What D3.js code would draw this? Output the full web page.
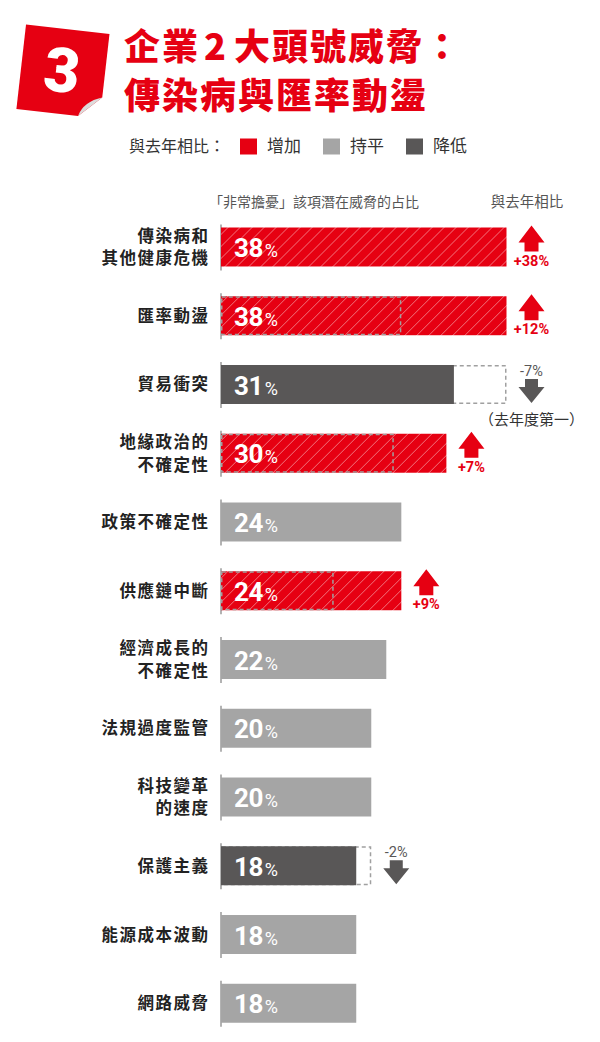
<!DOCTYPE html>
<html>
<head>
<meta charset="utf-8">
<script src="https://cdn.jsdelivr.net/npm/d3@7"></script>
<style>
  body { margin: 0; background: #fff; }
  svg { display: block; }
</style>
</head>
<body>
<div id="plot"></div>
<script>
'use strict';

const categories = ['傳染病和\n其他健康危機', '匯率動盪', '貿易衝突', '地緣政治的\n不確定性', '政策不確定性',
  '供應鏈中斷', '經濟成長的\n不確定性', '法規過度監管', '科技變革\n的速度', '保護主義', '能源成本波動', '網路威脅']
const values = [38, 38, 31, 30, 24, 24, 22, 20, 20, 18, 18, 18]
const trend = ['up', 'up', 'down', 'up', 'flat', 'up', 'flat', 'flat', 'flat', 'down', 'flat', 'flat']
const prevValues = [null, 24, 38, 23, null, 15, null, null, null, 20, null, null]
const changeLabels = ['+38%', '+12%', '-7%', '+7%', null, '+9%', null, null, null, '-2%', null, null]
const notes = [null, null, '（去年度第一）', null, null, null, null, null, null, null, null, null]
const legendItems = [['up', '增加'], ['flat', '持平'], ['down', '降低']]

const col = { up: '#e60012', flat: '#a5a5a5', down: '#595757' }
const cjk = '"Noto Sans CJK TC", "Noto Sans", sans-serif'
const num = 'Roboto, "Noto Sans", sans-serif'

let width = 600, height = 1042
let svg = d3.select('#plot').append('svg')
  .attr('width', width)
  .attr('height', height)

let defs = svg.append('defs')
let pat = defs.append('pattern')
  .attr('id', 'hatch')
  .attr('patternUnits', 'userSpaceOnUse')
  .attr('width', 12)
  .attr('height', 12)
pat.append('rect').attr('width', 12).attr('height', 12).attr('fill', col.up)
pat.append('path')
  .attr('d', 'M0,12 L12,0 M-3,3 L3,-3 M9,15 L15,9')
  .attr('stroke', '#fff')
  .attr('stroke-opacity', 0.45)
  .attr('stroke-width', 1)

// badge "3"
let badge = svg.append('g').attr('transform', 'translate(63,71) rotate(6.5)')
badge.append('path')
  .attr('d', 'M-42,-42 L42,-42 L42,22 L20,43 L-42,43 Z')
  .attr('fill', col.up)
badge.append('path')
  .attr('d', 'M42,22 L20,43 Q24,28 42,22 Z')
  .attr('fill', '#dcdcdc')
badge.append('text')
  .attr('x', -1)
  .attr('y', 21)
  .attr('text-anchor', 'middle')
  .attr('fill', '#fff')
  .attr('font-family', num)
  .attr('font-weight', 900)
  .attr('font-size', '62px')
  .text('3')

// title
let title = svg.append('g')
  .attr('fill', col.up)
  .attr('font-family', cjk)
  .attr('font-weight', 900)
  .attr('font-size', '36px')
  .attr('letter-spacing', '2px')
let t1 = title.append('text').attr('x', 124).attr('y', 60)
t1.append('tspan').text('企業')
t1.append('tspan').attr('dx', 4).text('2')
t1.append('tspan').attr('dx', 6).text('大頭號威脅：')
title.append('text').attr('x', 124).attr('y', 109).text('傳染病與匯率動盪')

// legend
let legend = svg.append('g')
  .attr('font-family', cjk)
  .attr('font-size', '16px')
  .attr('fill', '#333')
legend.append('text').attr('x', 129).attr('y', 152).text('與去年相比：')
legendItems.forEach(function(d, i) {
  let lx = 240 + i * 83
  legend.append('rect')
    .attr('x', lx).attr('y', 138.5)
    .attr('width', 17).attr('height', 16)
    .attr('fill', col[d[0]])
  legend.append('text')
    .attr('x', lx + 27).attr('y', 152)
    .attr('font-size', '17px')
    .text(d[1])
})

// column headers
svg.append('text')
  .attr('x', 209).attr('y', 207)
  .attr('font-family', cjk).attr('font-size', '14px').attr('fill', '#555')
  .text('「非常擔憂」該項潛在威脅的占比')
svg.append('text')
  .attr('x', 527).attr('y', 207)
  .attr('text-anchor', 'middle')
  .attr('font-family', cjk).attr('font-size', '14.5px').attr('fill', '#555')
  .text('與去年相比')

let x = d3.scaleLinear()
  .domain([0, 38])
  .range([221, 506.5])
let y = d3.scaleBand()
  .domain(categories)
  .range([227.5, 1022.75])
  .paddingInner(0.433)
  .paddingOuter(0)
let bh = y.bandwidth()

let rows = svg.append('g').selectAll('g')
  .data(categories)
  .enter()
  .append('g')
  .attr('transform', d => `translate(0, ${y(d)})`)

// left edge tick
rows.append('line')
  .attr('x1', x(0)).attr('x2', x(0))
  .attr('y1', -3).attr('y2', bh + 4)
  .attr('stroke', '#9a9a9a')
  .attr('stroke-width', 1.5)

rows.each(function(d, i) {
  let g = d3.select(this)
  let t = trend[i]
  let prev = prevValues[i]
  let dashed = function() {
    g.append('rect')
      .attr('x', x(0) + 0.75).attr('y', 0.75)
      .attr('width', x(prev) - x(0) - 1.5).attr('height', bh - 1.5)
      .attr('fill', 'none')
      .attr('stroke', '#a0a0a0')
      .attr('stroke-width', 1.5)
      .attr('stroke-dasharray', '4,3')
  }
  if (prev != null && t == 'down') dashed()
  g.append('rect')
    .attr('x', x(0)).attr('y', 0)
    .attr('width', x(values[i]) - x(0)).attr('height', bh)
    .attr('fill', t == 'up' ? 'url(#hatch)' : col[t])
  if (prev != null && t == 'up') dashed()

  // value label
  let vt = g.append('text')
    .attr('x', x(0) + 13).attr('y', 29.5)
    .attr('fill', '#fff')
    .attr('font-family', num)
  vt.append('tspan')
    .attr('font-size', '26px').attr('font-weight', 700).attr('letter-spacing', '-0.5px')
    .text(values[i])
  vt.append('tspan')
    .attr('dx', 2)
    .attr('font-size', '18px').attr('font-weight', 400)
    .text('%')

  // category label
  let lines = d.split('\n')
  let lt = g.append('text')
    .attr('text-anchor', 'end')
    .attr('font-family', cjk).attr('font-weight', 700)
    .attr('font-size', '16.5px').attr('letter-spacing', '1.5px')
    .attr('fill', '#222')
  lines.forEach(function(s, k) {
    lt.append('tspan')
      .attr('x', 209.5)
      .attr('y', bh / 2 + 6 + (k - (lines.length - 1) / 2) * 23)
      .text(s)
  })

  // change arrows
  if (changeLabels[i] != null) {
    let cx = Math.max(x(values[i]), x(prev || 0)) + 25
    if (t == 'up') {
      g.append('path')
        .attr('d', `M${cx},-2 L${cx + 13},15 L${cx + 7},15 L${cx + 7},24 L${cx - 7},24 L${cx - 7},15 L${cx - 13},15 Z`)
        .attr('fill', col.up)
      g.append('text')
        .attr('x', cx).attr('y', 38)
        .attr('text-anchor', 'middle')
        .attr('font-family', num).attr('font-weight', 700).attr('font-size', '14.5px')
        .attr('fill', col.up)
        .text(changeLabels[i])
    } else {
      g.append('path')
        .attr('d', `M${cx - 6.5},14 L${cx + 6.5},14 L${cx + 6.5},22 L${cx + 13},22 L${cx},38 L${cx - 13},22 L${cx - 6.5},22 Z`)
        .attr('fill', col.down)
      g.append('text')
        .attr('x', cx).attr('y', 10.5)
        .attr('text-anchor', 'middle')
        .attr('font-family', num).attr('font-weight', 400).attr('font-size', '14.5px')
        .attr('fill', col.down)
        .text(changeLabels[i])
    }
    if (notes[i] != null) {
      g.append('text')
        .attr('x', cx).attr('y', 60)
        .attr('text-anchor', 'middle')
        .attr('font-family', cjk).attr('font-size', '15px')
        .attr('fill', '#333')
        .text(notes[i])
    }
  }
})
</script>
</body>
</html>
